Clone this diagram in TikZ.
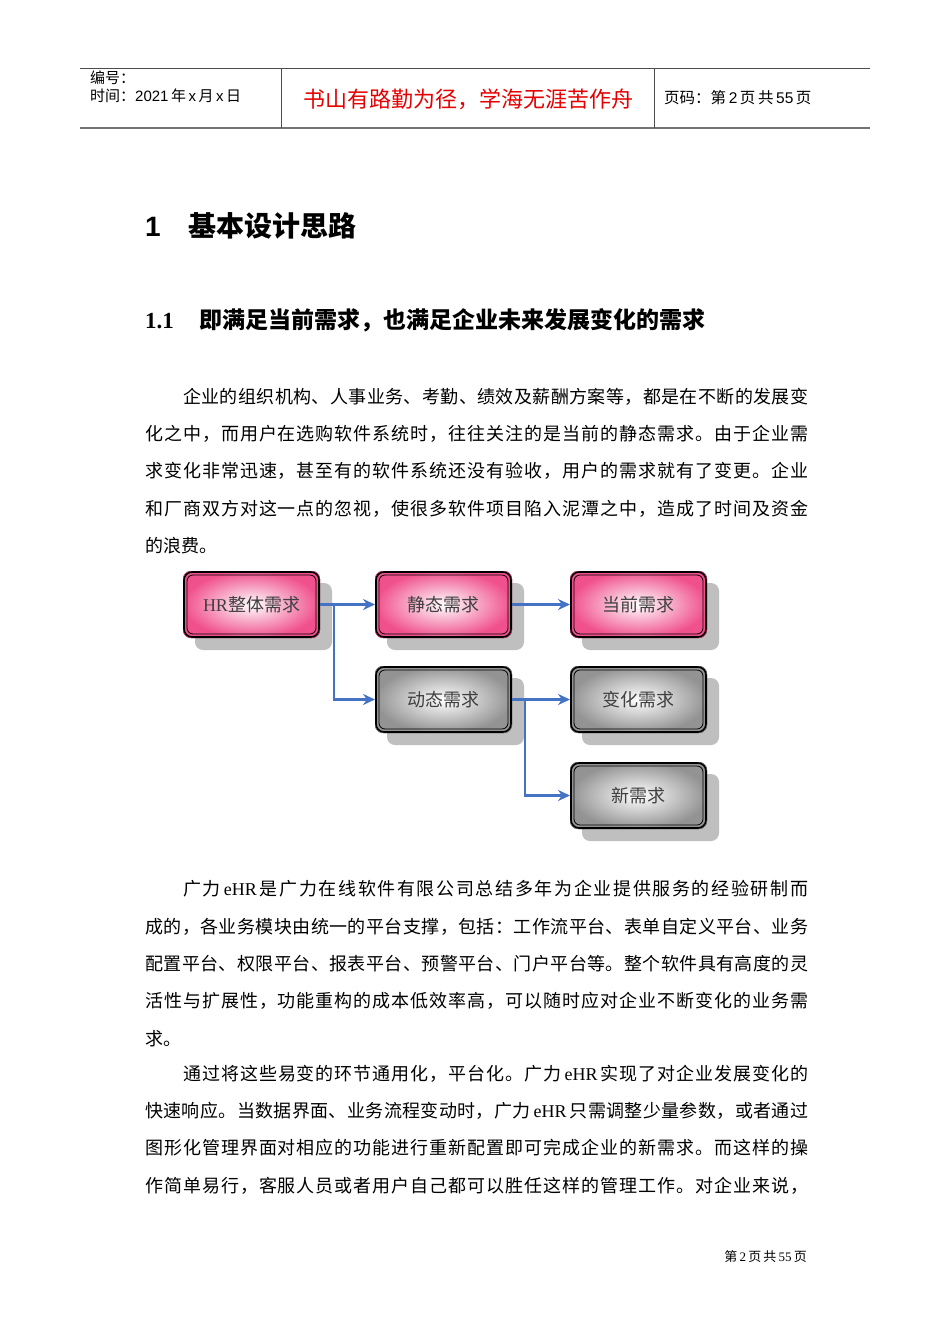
\documentclass[tikz,border=0pt]{standalone}
\usepackage{fontspec}
\setmainfont{Noto Sans CJK SC}
\newfontfamily\latinsf{Liberation Sans}
\newfontfamily\latinserif{Liberation Serif}
\usetikzlibrary{shadings,arrows.meta}
\XeTeXinterchartokenstate=1
\newcount\mycc
\mycc="3000 \loop\XeTeXcharclass\mycc=1 \advance\mycc by 1 \ifnum\mycc<"A000 \repeat
\mycc="FF00 \loop\XeTeXcharclass\mycc=1 \advance\mycc by 1 \ifnum\mycc<"FFF0 \repeat
\XeTeXinterchartoks 1 1 = {\hskip 0pt plus 4pt}
\XeTeXinterchartoks 0 1 = {\hskip 0pt plus 4pt}
\XeTeXinterchartoks 1 0 = {\hskip 0pt plus 4pt}
\newcommand\jl[2]{\makebox[#1pt][s]{#2}}
\definecolor{pk}{RGB}{240,80,140}
\definecolor{ab}{RGB}{68,114,196}
\begin{document}
\begin{tikzpicture}[x=1pt,y=-1pt,
  bodyline/.style={anchor=west,inner sep=0,font=\fontsize{18}{18}\selectfont},
  pinkbox/.style={rounded corners=8pt,inner color=white,outer color=pk},
  graybox/.style={rounded corners=8pt,inner color=white,outer color=gray!85},
  arr/.style={draw=ab,line width=2.4pt,-{Stealth[length=12pt,width=11pt]}},
  lbl/.style={font=\fontsize{18}{18}\selectfont,text=black!75}]
\useasboundingbox (0,0) rectangle (950,1344);
\fill[white] (0,0) rectangle (950,1344);
% header
\draw[black!70,line width=0.8pt] (80,68) -- (870,68);
\draw[black!55,line width=2pt] (80,128) -- (870,128);
\draw[black!70] (281,68) -- (281,128) (654,68) -- (654,128);
\node[anchor=west,inner sep=0,font=\fontsize{15}{15}\selectfont] (h1) at (90,78) {编号：};
\node[anchor=west,inner sep=0,font=\fontsize{15}{15}\selectfont] (h2) at (90,96) {时间：{\latinsf 2021}\,年\,{\latinsf x}\,月\,{\latinsf x}\,日};
\node[inner sep=0,text=red!90!black,font=\fontsize{22}{22}\selectfont] (h3) at (468,99) {书山有路勤为径，学海无涯苦作舟};
\node[anchor=west,inner sep=0,font=\fontsize{15.5}{15.5}\selectfont] (h4) at (664,98) {页码：第\,{\latinsf 2}\,页\,共\,{\latinsf 55}\,页};
% headings
\node[anchor=west,inner sep=0,font=\fontsize{28}{28}\selectfont\bfseries] (s1) at (145,226) {{\latinsf 1}\hspace{28pt}基本设计思路};
\node[anchor=west,inner sep=0,font=\fontsize{23}{23}\selectfont\bfseries] (s2) at (145,320) {{\latinserif 1.1}\hspace{26pt}即满足当前需求，也满足企业未来发展变化的需求};
% paragraph 1
\node[bodyline] (p1) at (183,397) {\jl{625}{企业的组织机构、人事业务、考勤、绩效及薪酬方案等，都是在不断的发展变}};
\node[bodyline] (p2) at (145,434) {\jl{663}{化之中，而用户在选购软件系统时，往往关注的是当前的静态需求。由于企业需}};
\node[bodyline] (p3) at (145,471) {\jl{663}{求变化非常迅速，甚至有的软件系统还没有验收，用户的需求就有了变更。企业}};
\node[bodyline] (p4) at (145,509) {\jl{663}{和厂商双方对这一点的忽视，使很多软件项目陷入泥潭之中，造成了时间及资金}};
\node[bodyline] (p5) at (145,546) {的浪费。};
% diagram
\foreach \n/\x/\y/\s/\t in {a/183/571/pinkbox/{{\latinserif HR}整体需求},b/375/571/pinkbox/静态需求,c/570/571/pinkbox/当前需求,d/375/666/graybox/动态需求,e/570/666/graybox/变化需求,f/570/762/graybox/新需求}{
  \fill[black!25,rounded corners=8pt] (\x+12,\y+12) rectangle ++(137,67);
  \fill[\s] (\x,\y) rectangle ++(137,67);
  \draw[line width=1.6pt,rounded corners=8pt] (\x+1,\y+1) rectangle ++(135,65);
  \draw[line width=0.8pt,rounded corners=6pt] (\x+4,\y+4) rectangle ++(129,59);
  \node[lbl] (\n) at (\x+68.5,\y+33.5) {\t};
  \coordinate (\n L) at (\x,\y+33.5);
  \coordinate (\n R) at (\x+137,\y+33.5);
}
\draw[arr] (aR) -- (bL);
\draw[arr] (aR) -| (334,666) |- (dL);
\draw[arr] (bR) -- (cL);
\draw[arr] (dR) -- (eL);
\draw[arr] (dR) -| (525,760) |- (fL);
% paragraph 2
\node[bodyline] (q1) at (183,889) {\jl{625}{广力\,{\latinserif eHR}\,是广力在线软件有限公司总结多年为企业提供服务的经验研制而}};
\node[bodyline] (q2) at (145,927) {\jl{663}{成的，各业务模块由统一的平台支撑，包括：工作流平台、表单自定义平台、业务}};
\node[bodyline] (q3) at (145,964) {\jl{663}{配置平台、权限平台、报表平台、预警平台、门户平台等。整个软件具有高度的灵}};
\node[bodyline] (q4) at (145,1001) {\jl{663}{活性与扩展性，功能重构的成本低效率高，可以随时应对企业不断变化的业务需}};
\node[bodyline] (q5) at (145,1039) {求。};
\node[bodyline] (r1) at (183,1074) {\jl{625}{通过将这些易变的环节通用化，平台化。广力\,{\latinserif eHR}\,实现了对企业发展变化的}};
\node[bodyline] (r2) at (145,1111) {\jl{663}{快速响应。当数据界面、业务流程变动时，广力\,{\latinserif eHR}\,只需调整少量参数，或者通过}};
\node[bodyline] (r3) at (145,1148) {\jl{663}{图形化管理界面对相应的功能进行重新配置即可完成企业的新需求。而这样的操}};
\node[bodyline] (r4) at (145,1186) {\jl{663}{作简单易行，客服人员或者用户自己都可以胜任这样的管理工作。对企业来说，}};
\node[anchor=east,inner sep=0,font=\fontsize{13}{13}\selectfont] (ft) at (807,1257) {第\,{\latinserif 2}\,页\,共\,{\latinserif 55}\,页};
\end{tikzpicture}
\end{document}
